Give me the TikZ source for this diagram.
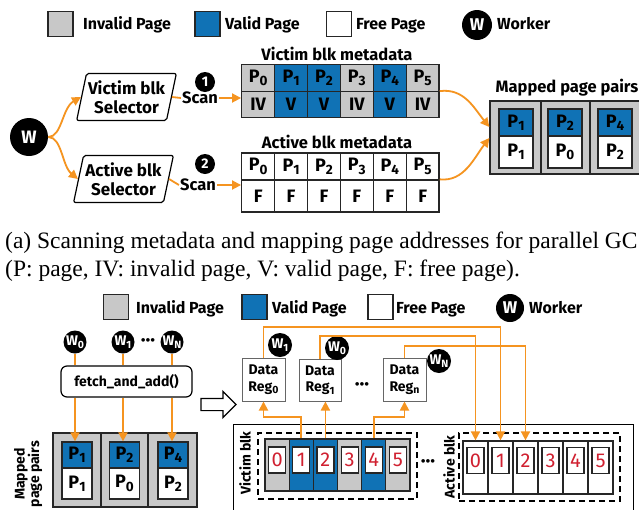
\documentclass[tikz,border=0pt]{standalone}
\usepackage{fontspec}
\setmainfont{Fira Sans}
\newfontfamily\capfont{Liberation Serif}
\usetikzlibrary{shapes.geometric,shapes.arrows,arrows.meta}
\definecolor{vblue}{RGB}{16,114,181}
\definecolor{igray}{RGB}{200,200,200}
\definecolor{gorange}{RGB}{245,148,32}
\definecolor{dred}{RGB}{208,32,48}
\newcommand\sbs[1]{\raisebox{-0.35ex}{\scalebox{0.75}{#1}}}
\tikzset{
  lbl/.style={font=\bfseries\fontsize{16}{18}\selectfont, inner sep=0pt, anchor=base west},
  legbox/.style={draw=black!85, line width=1.3pt, minimum width=25pt, minimum height=25pt, inner sep=0pt},
  wk/.style={circle, fill=black, text=white, inner sep=0pt},
  cell/.style={draw=black!85, line width=1.3pt, minimum width=32.9pt, inner sep=0pt, font=\bfseries\fontsize{18}{20}\selectfont},
  pcell/.style={draw=black!85, line width=1.3pt, inner sep=0pt, font=\bfseries\fontsize{18}{20}\selectfont},
  oline/.style={draw=gorange, line width=1.8pt},
  oarrow/.style={draw=gorange, line width=1.8pt, -{Triangle[length=9pt,width=9pt]}},
  sel/.style={trapezium, trapezium left angle=74, trapezium right angle=106, trapezium stretches=true,
     draw, line width=1.2pt, rounded corners=2pt, minimum width=100pt, minimum height=47pt,
     align=center, inner sep=0pt, font=\bfseries\fontsize{17}{19}\selectfont},
  title/.style={font=\bfseries\fontsize{16.5}{18}\selectfont, inner sep=0pt},
  reg/.style={draw=black!60, line width=1pt, minimum width=43pt, minimum height=43pt, inner sep=0pt,
     align=center, font=\bfseries\fontsize{14}{16.5}\selectfont},
  vc/.style={draw=black!85, line width=1.3pt, minimum width=24.2pt, minimum height=52pt, inner sep=0pt},
  ac/.style={draw=black!85, line width=1.3pt, minimum width=25pt, minimum height=53pt, inner sep=0pt},
  dig/.style={draw=black!85, fill=white, line width=1.2pt, minimum width=17pt, minimum height=26pt, inner sep=0pt,
     text=dred, font=\fontsize{20}{22}\selectfont},
  rot/.style={rotate=90, align=center, font=\bfseries\fontsize{14}{14.5}\selectfont, inner sep=0pt},
  dbox/.style={draw, dash pattern=on 6pt off 4pt, line width=1.4pt, inner sep=0pt},
  dots/.style={font=\bfseries\fontsize{20}{20}\selectfont, inner sep=0pt},
}
\begin{document}
\begin{tikzpicture}[x=1pt,y=-1pt]
\useasboundingbox (0,0) rectangle (639,509);
\clip (0,0) rectangle (639,509);
\fill[white] (0,0) rectangle (639,509);

% ---------- top legend ----------
\node[legbox, fill=igray] (lg1) at (60.5,24) {};
\node[lbl] (lt1) at (83,29.5) {Invalid Page};
\node[legbox, fill=vblue] (lg2) at (207.5,24) {};
\node[lbl] (lt2) at (225,29.5) {Valid Page};
\node[legbox, fill=white] (lg3) at (339,24) {};
\node[lbl] (lt3) at (356,29.5) {Free Page};
\node[wk, minimum size=30pt, font=\bfseries\fontsize{17}{18}\selectfont] (lw) at (477,25) {W};
\node[lbl] (lt4) at (497,29.5) {Worker};

% ---------- worker and selectors ----------
\node[wk, minimum size=38pt, font=\bfseries\fontsize{18}{19}\selectfont] (W) at (29,137) {W};
\node[sel] (vsel) at (126.5,97) {Victim blk\\Selector};
\node[sel] (asel) at (123.5,179) {Active blk\\Selector};
\draw[oarrow] (W.east) .. controls (62,137) and (62,108) .. (vsel.west);
\draw[oarrow] (W.east) .. controls (62,137) and (62,166) .. (asel.west);

\node[wk, minimum size=20pt, font=\bfseries\fontsize{14}{16}\selectfont] (n1) at (205,82) {1};
\node[wk, minimum size=20pt, font=\bfseries\fontsize{14}{16}\selectfont] (n2) at (205,164) {2};
\node[title, inner xsep=1pt] (scan1) at (200,98) {Scan};
\node[title, inner xsep=1pt] (scan2) at (198,185) {Scan};

% ---------- victim metadata ----------
\node[title] (vtitle) at (337,54) {Victim blk metadata};
\foreach \i/\c/\t in {0/igray/IV,1/vblue/V,2/vblue/V,3/igray/IV,4/vblue/V,5/igray/IV}{
  \node[cell, fill=\c, minimum height=27.5pt] (vt\i) at ({241.7+32.9*(\i+0.5)},78) {P\sbs{\i}};
  \node[cell, fill=\c, minimum height=26pt] (vb\i) at ({241.7+32.9*(\i+0.5)},104.75) {\t};
}
% ---------- active metadata ----------
\node[title] (atitle) at (337,142) {Active blk metadata};
\foreach \i in {0,...,5}{
  \node[cell, fill=white, minimum height=27pt] (at\i) at ({241.7+32.9*(\i+0.5)},166.5) {P\sbs{\i}};
  \node[cell, fill=white, minimum height=32pt] (ab\i) at ({241.7+32.9*(\i+0.5)},196) {F};
}
\draw[oline] (vsel.east) -- (scan1.west);
\draw[oarrow] (scan1.east) -- (scan1.east -| vb0.west);
\draw[oline] (asel.east) -- (scan2.west);
\draw[oarrow] (scan2.east) -- (scan2.east -| ab0.west);

% ---------- mapped page pairs (top) ----------
\node[title] (mtitle) at (567,88) {Mapped page pairs};
\node[pcell, fill=igray, minimum width=51pt, minimum height=73pt] (mp0) at (515.5,137.5) {};
\node[pcell, fill=igray, minimum width=49pt, minimum height=73pt] (mp1) at (565.5,137.5) {};
\node[pcell, fill=igray, minimum width=51pt, minimum height=73pt] (mp2) at (615.5,137.5) {};
\foreach \k/\x/\a/\b in {0/516/1/1,1/565/2/0,2/615/4/2}{
  \node[pcell, fill=vblue, minimum width=34pt, minimum height=27pt] (mpt\k) at (\x,122.5) {P\sbs{\a}};
  \node[pcell, fill=white, minimum width=34pt, minimum height=32pt] (mpb\k) at (\x,152) {P\sbs{\b}};
}
\draw[oarrow] (vb5.north east) .. controls (464,88) and (474,108) .. ([yshift=10.5pt]mp0.west);
\draw[oarrow] (ab5.north east) .. controls (464,182) and (474,158) .. ([yshift=-0.5pt]mp0.west);

% ---------- caption ----------
\node[inner sep=0pt, anchor=base west, font=\capfont\fontsize{23.5}{28}\selectfont] (cap1) at (5,248) {(a) Scanning metadata and mapping page addresses for parallel GC};
\node[inner sep=0pt, anchor=base west, font=\capfont\fontsize{23.5}{28}\selectfont] (cap2) at (5,276) {(P: page, IV: invalid page, V: valid page, F: free page).};

% ---------- bottom legend ----------
\node[legbox, fill=igray] (bg1) at (116,307) {};
\node[lbl] (bt1) at (136,313) {Invalid Page};
\node[legbox, fill=vblue] (bg2) at (254.5,307) {};
\node[lbl] (bt2) at (272,313) {Valid Page};
\node[legbox, fill=white] (bg3) at (380.5,307) {};
\node[lbl] (bt3) at (396,313) {Free Page};
\node[wk, minimum size=28pt, font=\bfseries\fontsize{17}{18}\selectfont] (bw) at (510,308) {W};
\node[lbl] (bt4) at (529,313) {Worker};

% ---------- fetch and add ----------
\node[wk, minimum size=23pt, font=\bfseries\fontsize{14}{16}\selectfont] (w0) at (75,342) {W\sbs{0}};
\node[wk, minimum size=23pt, font=\bfseries\fontsize{14}{16}\selectfont] (w1) at (123,342) {W\sbs{1}};
\node[wk, minimum size=23pt, font=\bfseries\fontsize{14}{16}\selectfont] (wn) at (172,342) {W\sbs{N}};
\node[dots] (wdots) at (148,343) {···};
\node[draw, line width=1.2pt, rounded corners=6pt, minimum width=131pt, minimum height=31pt, inner sep=0pt,
      font=\bfseries\fontsize{14}{16}\selectfont] (fetch) at (126.5,381.5) {fetch\_and\_add()};
\foreach \w in {w0,w1,wn}{
  \draw[oline] (\w) -- (\w |- fetch.north);
}
% bottom mapped page pairs
\node[rot] (mlab) at (28,474) {Mapped\\page pairs};
\node[pcell, fill=igray, minimum width=48pt, minimum height=74pt] (bp0) at (77,470) {};
\node[pcell, fill=igray, minimum width=47pt, minimum height=74pt] (bp1) at (124.5,470) {};
\node[pcell, fill=igray, minimum width=49pt, minimum height=74pt] (bp2) at (172.5,470) {};
\foreach \k/\x/\a/\b in {0/77/1/1,1/124.5/2/0,2/173/4/2}{
  \node[pcell, fill=vblue, minimum width=30pt, minimum height=26pt] (bpt\k) at (\x,455) {P\sbs{\a}};
  \node[pcell, fill=white, minimum width=30pt, minimum height=31pt] (bpb\k) at (\x,483.5) {P\sbs{\b}};
}
\draw[oarrow] (w0 |- fetch.south) -- (w0 |- bpt0.north);
\draw[oarrow] (w1 |- fetch.south) -- (w1 |- bpt1.north);
\draw[oarrow] (wn |- fetch.south) -- (wn |- bpt2.north);

% hollow arrow
\node[single arrow, draw, line width=1.2pt, fill=white, minimum height=35pt, inner xsep=0pt, inner ysep=5.5pt,
      single arrow head extend=7pt] (harrow) at (215.5,404.5) {};

% ---------- registers ----------
\node[reg] (reg0) at (263.5,379.5) {Data\\Reg\sbs{0}};
\node[reg, minimum width=42pt, minimum height=42pt] (reg1) at (320,380) {Data\\Reg\sbs{1}};
\node[reg] (regn) at (404.5,379.5) {Data\\Reg\sbs{n}};
\node[dots] (rdots) at (362,387) {···};

% ---------- blocks ----------
\node[draw, line width=1.2pt, fill=white, minimum width=400pt, minimum height=95pt, anchor=north west, inner sep=0pt] (outer) at (233,424) {};
\node[dbox, minimum width=159pt, minimum height=66pt] (vdash) at (337.5,466) {};
\node[dbox, minimum width=161pt, minimum height=68pt] (adash) at (539.5,467) {};
\node[rot] (vlab) at (245,463) {Victim blk};
\node[rot] (alab) at (449,467) {Active blk};
\node[dots] (bdots) at (428,464) {···};

\foreach \i/\c in {0/igray,1/vblue,2/vblue,3/igray,4/vblue,5/igray}{
  \node[vc, fill=\c] (v\i) at ({265+24.17*(\i+0.5)},465) {};
  \node[dig] (vd\i) at ({265+24.17*(\i+0.5)},460) {\i};
}
\foreach \i in {0,...,5}{
  \node[ac, fill=white] (a\i) at ({463+25*(\i+0.5)},467.5) {};
  \node[dig] (ad\i) at ({463+25*(\i+0.5)},460.5) {\i};
}

% ---------- worker badges ----------
\node[wk, minimum size=24pt, font=\bfseries\fontsize{14}{16}\selectfont] (rw1) at (280,345) {W\sbs{1}};
\node[wk, minimum size=24pt, font=\bfseries\fontsize{14}{16}\selectfont] (rw0) at (337,348) {W\sbs{0}};
\node[wk, minimum size=24pt, font=\bfseries\fontsize{14}{16}\selectfont] (rwn) at (439,361) {W\sbs{N}};

% ---------- orange connectors ----------
\draw[oarrow] (reg0.north) -- (reg0.north |- 0,327) -| (a1.north);
\draw[oarrow] (reg1.north) -- (reg1.north |- 0,336) -| (a0.north);
\draw[oarrow] (regn.north) -- (regn.north |- 0,346) -| (a2.north);
\draw[oarrow] (v1.north) -- (v1.north |- 0,417) -| (reg0.south);
\draw[oarrow] (v2.north) -- (v2.north |- reg1.south);
\draw[oarrow] (v4.north) -- (v4.north |- 0,417) -| (regn.south);
\end{tikzpicture}
\end{document}
